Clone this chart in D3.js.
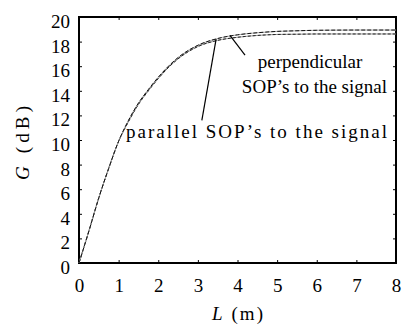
<!DOCTYPE html>
<html><head><meta charset="utf-8">
<script src="https://cdn.jsdelivr.net/npm/d3@7"></script>
<style>body{margin:0;background:#fff}svg{display:block}</style>
</head><body><svg id="c" width="403" height="325" font-family="Liberation Serif"></svg>
<script>
const L = [0,0.25,0.5,0.75,1,1.25,1.5,1.75,2,2.5,3,3.5,4,4.5,5,5.5,6,7,8];
const Gpar = [0,2.6,5.3,7.7,9.9,11.5,12.9,14.0,15.0,16.6,17.6,18.1,18.35,18.5,18.58,18.6,18.62,18.62,18.62];
const Gperp = [0,2.6,5.3,7.7,9.9,11.6,13.0,14.1,15.1,16.7,17.7,18.25,18.55,18.72,18.83,18.88,18.92,18.94,18.94];
const xTicks = [0,1,2,3,4,5,6,7,8];
const yTicks = [0,2,4,6,8,10,12,14,16,18,20];
const leaderPerp = [[3.81,18.5],[4.19,16.9]];
const leaderPar = [[3.46,18.2],[3.1,11.6]];

const FONT = "Liberation Serif";
const svg = d3.select("#c");
const x = d3.scaleLinear().domain([0,8]).range([79,396]);
const y = d3.scaleLinear().domain([0,20]).range([263,17]);

const g = svg.append("g");
g.append("g").attr("transform","translate(0,263)")
 .call(d3.axisBottom(x).tickValues(xTicks).tickSize(-3).tickPadding(16).tickFormat(d3.format("d")))
 .call(a=>{a.select(".domain").remove();});
g.append("g").attr("transform","translate(0,17)")
 .call(d3.axisTop(x).tickValues(xTicks).tickSize(-3).tickFormat(""))
 .call(a=>{a.select(".domain").remove();});
g.append("g").attr("transform","translate(79,0)")
 .call(d3.axisLeft(y).tickValues(yTicks).tickSize(-3).tickPadding(9).tickFormat(d3.format("d")))
 .call(a=>{a.select(".domain").remove();a.selectAll("text").attr("dy","0.55em");});
g.append("g").attr("transform","translate(396,0)")
 .call(d3.axisRight(y).tickValues(yTicks).tickSize(-3).tickFormat(""))
 .call(a=>{a.select(".domain").remove();});
g.selectAll("g").attr("font-family",FONT).attr("font-size",19);

svg.append("rect").attr("x",x(0)).attr("y",y(20)).attr("width",x(8)-x(0)).attr("height",y(0)-y(20))
 .attr("fill","none").attr("stroke","#000").attr("stroke-width",2);

const line = arr => d3.line().x((d,i)=>x(L[i])).y(d=>y(d)).curve(d3.curveMonotoneX)(arr);
svg.append("path").attr("d",line(Gpar)).attr("fill","none").attr("stroke","#999").attr("stroke-width",1);
svg.append("path").attr("d",line(Gpar)).attr("fill","none").attr("stroke","#222").attr("stroke-width",1).attr("stroke-dasharray","3,2");
svg.append("path").attr("d",line(Gperp)).attr("fill","none").attr("stroke","#aaa").attr("stroke-width",1);
svg.append("path").attr("d",line(Gperp)).attr("fill","none").attr("stroke","#111").attr("stroke-width",1).attr("stroke-dasharray","4,2");

const ll = d3.line().x(d=>x(d[0])).y(d=>y(d[1]));
svg.append("path").attr("d",ll(leaderPerp)).attr("stroke","#000").attr("stroke-width",1.2).attr("fill","none");
svg.append("path").attr("d",ll(leaderPar)).attr("stroke","#000").attr("stroke-width",1.2).attr("fill","none");

svg.append("text").attr("x",310).attr("y",68).attr("text-anchor","middle").attr("font-size",19).text("perpendicular");
svg.append("text").attr("x",387).attr("y",93).attr("text-anchor","end").attr("font-size",19).text("SOP\u2019s to the signal");
svg.append("text").attr("x",126).attr("y",138).attr("font-size",19)
 .attr("textLength",261).attr("lengthAdjust","spacing").text("parallel SOP\u2019s to the signal");

svg.append("text").attr("x",212).attr("y",320).attr("font-size",19)
 .attr("textLength",51).attr("lengthAdjust","spacing")
 .html('<tspan font-style="italic">L</tspan> (m)');
svg.append("text").attr("transform","translate(29,180) rotate(-90)").attr("font-size",19)
 .attr("textLength",74).attr("lengthAdjust","spacing")
 .html('<tspan font-style="italic">G</tspan> (dB)');
svg.selectAll("text").attr("font-family",FONT).attr("fill","#000");
</script></body></html>
